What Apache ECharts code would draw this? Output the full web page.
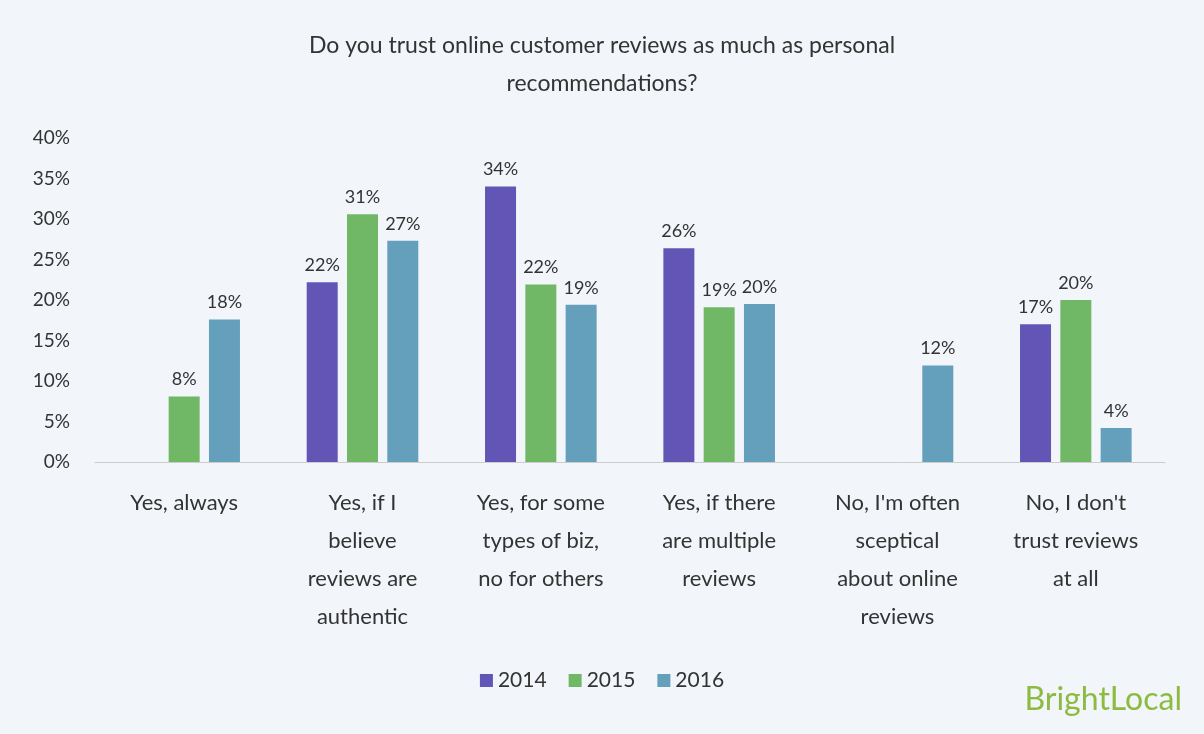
<!DOCTYPE html>
<html><head><meta charset="utf-8">
<script src="https://cdn.jsdelivr.net/npm/echarts@6/dist/echarts.min.js"></script>
<style>html,body{margin:0;background:#f2f5f9}#c{width:1204px;height:734px}</style>
</head><body><div id="c"></div>
<script>
const categories=["Yes, always","Yes, if I\nbelieve\nreviews are\nauthentic","Yes, for some\ntypes of biz,\nno for others","Yes, if there\nare multiple\nreviews","No, I'm often\nsceptical\nabout online\nreviews","No, I don't\ntrust reviews\nat all"];
const years=["2014","2015","2016"];
const v2014=[null,22.2,34.0,26.4,null,17.0];
const v2015=[8.1,30.6,21.9,19.1,null,20.0];
const v2016=[17.6,27.3,19.4,19.5,11.9,4.2];
const colors=["#6355b5","#70b866","#64a0bb"];
const chart=echarts.init(document.getElementById('c'));
const mk=(name,data,i)=>({name,type:'bar',data,barWidth:31,barGap:'30%',itemStyle:{color:colors[i]},
 label:{show:true,position:'top',distance:8,color:'#333',fontSize:18,fontFamily:'Lato',formatter:p=>Math.round(p.value)+'%'}});
chart.setOption({
 backgroundColor:'#f2f5f9',
 title:{text:'Do you trust online customer reviews as much as personal\nrecommendations?',left:'center',top:22,
  textStyle:{fontFamily:'Lato',fontWeight:'normal',fontSize:23,color:'#333',lineHeight:38}},
 grid:{left:95,right:39,top:138,bottom:272},
 legend:{bottom:38,left:'center',itemWidth:13,itemHeight:13,itemGap:22,icon:'rect',
  textStyle:{fontFamily:'Lato',fontSize:21,color:'#333'}},
 xAxis:{type:'category',data:categories,axisTick:{show:false},axisLine:{lineStyle:{color:'#ccc'}},
  axisLabel:{interval:0,fontFamily:'Lato',fontSize:22,color:'#333',lineHeight:38,margin:22}},
 yAxis:{type:'value',min:0,max:40,interval:5,splitLine:{show:false},
  axisLabel:{formatter:'{value}%',fontFamily:'Lato',fontSize:19,color:'#333',margin:25}},
 graphic:[{type:'text',right:22,bottom:18,style:{text:'BrightLocal',fontFamily:'Liberation Sans Narrow, Lato',fontSize:32,fill:'#8dbb3f'}}],
 series:[mk(years[0],v2014,0),mk(years[1],v2015,1),mk(years[2],v2016,2)]
});
</script></body></html>
